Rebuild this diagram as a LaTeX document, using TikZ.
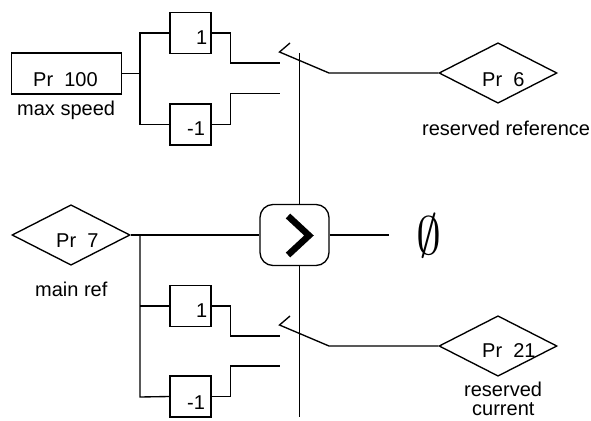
\documentclass[tikz,border=0pt]{standalone}
\usepackage{fontspec}
\setmainfont{Liberation Sans}
\usetikzlibrary{shapes.geometric}
\tikzset{
  wire/.style={line width=1.35pt,line join=miter},
  thinwire/.style={line width=1pt},
  box/.style={draw,line width=1.35pt,rectangle,inner sep=0pt,minimum width=41pt,minimum height=41pt},
  pbox/.style={draw,line width=1.35pt,rectangle,inner sep=0pt,minimum width=110pt,minimum height=41pt},
  dia/.style={draw,line width=1.35pt,diamond,inner sep=0pt,minimum width=118pt,minimum height=60.5pt,shape aspect=1.95},
  cmpbox/.style={draw,line width=1.35pt,rectangle,rounded corners=13pt,inner sep=0pt,minimum width=69pt,minimum height=61pt},
  lab/.style={inner sep=0pt,anchor=base west,font=\fontsize{20}{24}\selectfont},
}
\begin{document}
\begin{tikzpicture}[x=1pt,y=-1pt]
\useasboundingbox (0,0) rectangle (591,420);
% blocks
\node[pbox] (p100) at (66.5,73.5) {};
\node[box] (a1) at (190.5,33) {};
\node[box] (a2) at (190.5,124.5) {};
\node[dia] (p6) at (498,73) {};
\node[dia] (p7) at (71,235) {};
\node[cmpbox] (cmp) at (294.5,235) {};
\node[box] (b1) at (190.5,306) {};
\node[box] (b2) at (190.5,396.5) {};
\node[dia] (p21) at (498,346) {};
% labels
\node[lab] (t100) at (33,86) {Pr\hspace{5.6pt} 100};
\node[lab] (tmax) at (17,115) {max speed};
\node[lab] (ta1) at (196,45) {1};
\node[lab] (ta2) at (187,135) {-1};
\node[lab] (t6) at (482,86) {Pr\hspace{5.6pt} 6};
\node[lab] (tres) at (422,135) {reserved reference};
\node[lab] (t7) at (56,247) {Pr\hspace{5.6pt} 7};
\node[lab] (tmain) at (35,296.5) {main ref};
\node[lab] (tb1) at (196,317) {1};
\node[lab] (tb2) at (187,409) {-1};
\node[lab] (t21) at (482,357) {Pr\hspace{5.6pt} 21};
\node[lab] (tr2) at (464,396.5) {reserved};
\node[lab] (tc2) at (472,415.5) {current};
\node[inner sep=0pt] (empty) at (429,235.5) {\scalebox{5}[5.4]{$\emptyset$}};
% junctions and switch points
\coordinate (j1) at (140,73.5);
\coordinate (j1t) at (140,33);
\coordinate (j1b) at (140,124.5);
\coordinate (c1) at (280,63);
\coordinate (c2) at (280,93.5);
\coordinate (s1a) at (290,43);
\coordinate (s1b) at (279.5,52);
\coordinate (s1c) at (329,73);
\coordinate (j2) at (140,235);
\coordinate (j2a) at (140,306);
\coordinate (j2b) at (140,397);
\coordinate (d1) at (280,336);
\coordinate (d2) at (280,366);
\coordinate (s2a) at (290,316);
\coordinate (s2b) at (279.5,325);
\coordinate (s2c) at (329,346);
\coordinate (v1) at (299.5,53);
\coordinate (v2) at (299.5,417);
\coordinate (o) at (389,235);
% thin control line
\draw[thinwire] (v1) -- (cmp.north -| v1);
\draw[thinwire] (cmp.south -| v1) -- (v2);
% upper
\draw[wire] (p100.east) -- (j1);
\draw[wire] (a1.west) -- (j1t) -- (j1b) -- (a2.west);
\draw[wire] (a1.east) -- ++(19,0) |- (c1);
\draw[wire] (a2.east) -- ++(19,0) |- (c2);
\draw[wire] (s1a) -- (s1b) -- (s1c) -- (p6.west);
% middle
\draw[wire] (p7.east) -- (cmp.west);
\draw[wire] (cmp.east) -- (o);
\draw[line width=6.5pt] (288,216) -- (309,235.5) -- (288,255);
% lower
\draw[wire] (j2) -- (j2b) -- (b2.west);
\draw[wire] (j2a) -- (b1.west);
\draw[wire] (b1.east) -- ++(19,0) |- (d1);
\draw[wire] (b2.east) -- ++(19,0) |- (d2);
\draw[wire] (s2a) -- (s2b) -- (s2c) -- (p21.west);
\end{tikzpicture}
\end{document}
